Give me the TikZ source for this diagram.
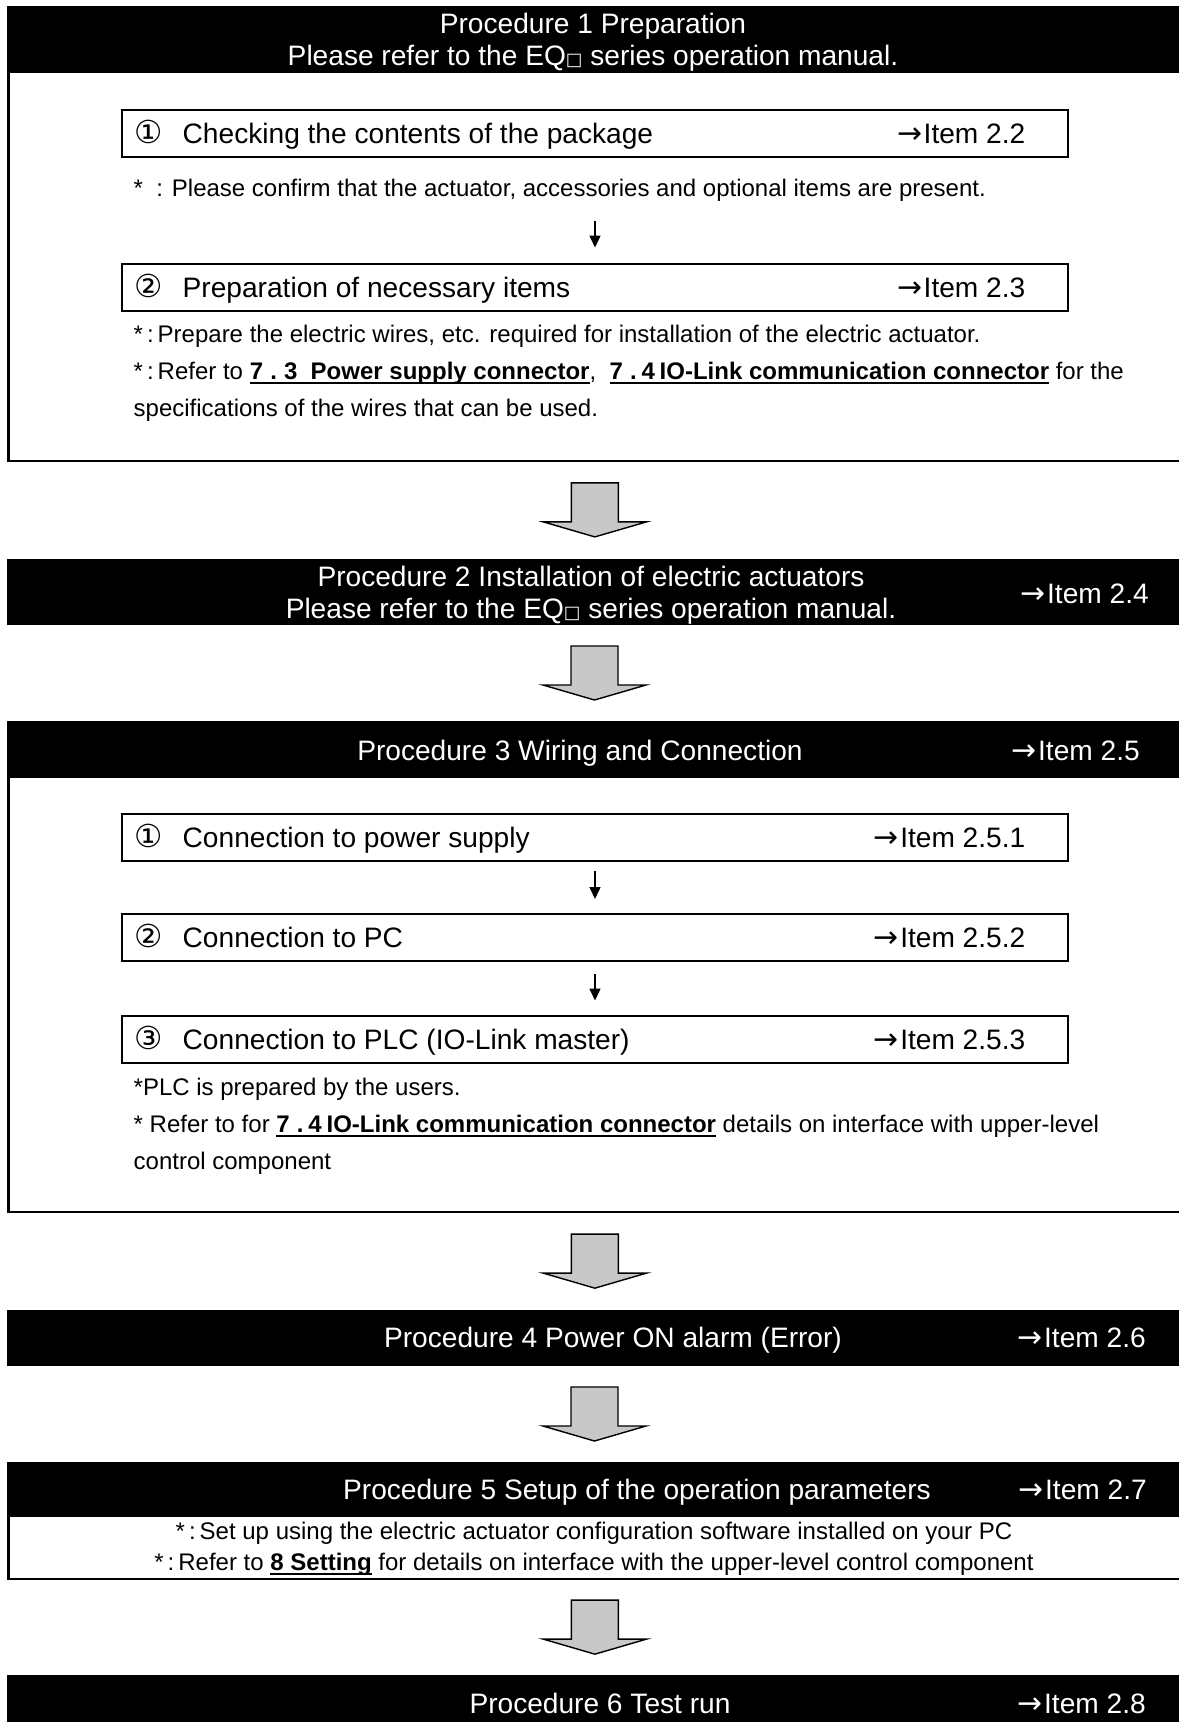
\documentclass[tikz,border=0pt]{standalone}
\usepackage{fontspec}
\setmainfont{Liberation Sans}
\newfontfamily\symfont{DejaVu Sans}
\usetikzlibrary{arrows.meta,calc,positioning}
\definecolor{ArrowGray}{HTML}{C8C8C8}

\newsavebox{\refbox}
\newcommand{\boxsq}{{\symfont\fontsize{5}{6}\selectfont □}}
\newcommand{\toitem}{{\symfont\fontsize{8.5}{9}\selectfont →}\kern0.4pt}
\newcommand{\circnum}[1]{\makebox[0.48cm][l]{\symfont\fontsize{9}{9}\selectfont #1}}
\newcommand{\refbold}[1]{\sbox{\refbox}{\bfseries #1}\rlap{\rule[-1.5pt]{\wd\refbox}{0.75pt}}\usebox{\refbox}}

\tikzset{
  band/.style={fill=black, draw=none, inner sep=0pt, minimum width=11.75cm},
  outerbox/.style={draw=black, line width=0.57pt, inner sep=0pt, minimum width=11.735cm},
  stepbox/.style={draw=black, line width=0.57pt, inner sep=0pt, minimum width=9.46cm, minimum height=0.47cm},
  headtext/.style={white, font=\fontsize{8}{9.2}\selectfont, align=center, inner sep=0pt, yshift=-0.25mm},
  titletext/.style={white, font=\fontsize{8}{9.2}\selectfont, inner sep=0pt, text height=6pt, text depth=1.7pt, yshift=-0.25mm},
  steptext/.style={font=\fontsize{8}{9.2}\selectfont, inner sep=0pt, text height=6pt, text depth=1.7pt, yshift=-0.25mm},
  notetext/.style={font=\fontsize{6.83}{8.8}\selectfont, inner sep=0pt, yshift=-0.2mm},
  smallarrow/.style={->, line width=0.45pt},
  grayarrow/.pic={
    \draw[fill=ArrowGray, line width=0.4pt] (-0.235,0.27) -- (0.235,0.27) -- (0.235,-0.12)
      -- (0.515,-0.12) -- (0,-0.27) -- (-0.515,-0.12) -- (-0.235,-0.12) -- cycle;
  }
}

\begin{document}
\begin{tikzpicture}[>={Triangle[length=1.2mm,width=1.1mm]}]
    \useasboundingbox (0,0) rectangle (11.79,-17.22);

    % Procedure 1
    \node[band, minimum height=0.66cm] (h1) at (5.945,-0.39) {};
    \node[headtext] (t1) at (5.93,-0.40) {Procedure 1 Preparation\\Please refer to the EQ\boxsq{} series operation manual.};
    \node[outerbox, minimum height=3.885cm] (box1) at (5.9525,-2.6625) {};

    \node[stepbox] (c1) at (5.95,-1.335) {};
    \node[steptext, right=0.13cm of c1.west] (c1l) {\circnum{①}Checking the contents of the package};
    \node[steptext, left=0.43cm of c1.east] (c1r) {\toitem Item 2.2};
    \node[notetext, anchor=west] (n1) at (1.33,-1.88) {*\ \ : Please confirm that the actuator, accessories and optional items are present.};

    \node[stepbox] (c2) at (5.95,-2.87) {};
    \node[steptext, right=0.13cm of c2.west] (c2l) {\circnum{②}Preparation of necessary items};
    \node[steptext, left=0.43cm of c2.east] (c2r) {\toitem Item 2.3};
    \draw[smallarrow, shorten <=0.63cm, shorten >=0.15cm] (c1.south) -- (c2.north);

    \node[notetext, anchor=west] (n2a) at (1.33,-3.34) {*\,:\,Prepare the electric wires, etc. required for installation of the electric actuator.};
    \node[notetext, anchor=west] (n2b) at (1.33,-3.71) {*\,:\,Refer to \refbold{7\hspace{0.3em}.\hspace{0.3em}3\hspace{0.55em}Power supply connector}, \ \refbold{7\hspace{0.3em}.\hspace{0.2em}4\hspace{0.2em}IO-Link communication connector} for the};
    \node[notetext, anchor=west] (n2c) at (1.33,-4.08) {specifications of the wires that can be used.};

    % Procedure 2
    \node[band, minimum height=0.66cm] (h2) at (5.945,-5.92) {};
    \node[headtext] (t2) at (5.91,-5.925) {Procedure 2 Installation of electric actuators\\Please refer to the EQ\boxsq{} series operation manual.};
    \node[titletext, anchor=west] (i2) at (10.20,-5.93) {\toitem Item 2.4};
    \pic at ($(box1.south)!0.5!(h2.north)$) {grayarrow};

    % Procedure 3
    \node[band, minimum height=0.56cm] (h3) at (5.945,-7.49) {};
    \node[titletext] (t3) at (5.80,-7.50) {Procedure 3 Wiring and Connection};
    \node[titletext, anchor=west] (i3) at (10.11,-7.50) {\toitem Item 2.5};
    \node[outerbox, minimum height=4.35cm] (box3) at (5.9525,-9.945) {};
    \pic at ($(h2.south)!0.5!(h3.north)$) {grayarrow};

    \node[stepbox] (c3a) at (5.95,-8.37) {};
    \node[steptext, right=0.13cm of c3a.west] (c3al) {\circnum{①}Connection to power supply};
    \node[steptext, left=0.43cm of c3a.east] (c3ar) {\toitem Item 2.5.1};

    \node[stepbox] (c3b) at (5.95,-9.375) {};
    \node[steptext, right=0.13cm of c3b.west] (c3bl) {\circnum{②}Connection to PC};
    \node[steptext, left=0.43cm of c3b.east] (c3br) {\toitem Item 2.5.2};

    \node[stepbox] (c3c) at (5.95,-10.39) {};
    \node[steptext, right=0.13cm of c3c.west] (c3cl) {\circnum{③}Connection to PLC (IO-Link master)};
    \node[steptext, left=0.43cm of c3c.east] (c3cr) {\toitem Item 2.5.3};

    \draw[smallarrow, shorten <=0.09cm, shorten >=0.14cm] (c3a.south) -- (c3b.north);
    \draw[smallarrow, shorten <=0.12cm, shorten >=0.14cm] (c3b.south) -- (c3c.north);

    \node[notetext, anchor=west] (n3a) at (1.33,-10.87) {*PLC is prepared by the users.};
    \node[notetext, anchor=west] (n3b) at (1.33,-11.24) {* Refer to for \refbold{7\hspace{0.3em}.\hspace{0.2em}4\hspace{0.2em}IO-Link communication connector} details on interface with upper-level};
    \node[notetext, anchor=west] (n3c) at (1.33,-11.61) {control component};

    % Procedure 4
    \node[band, minimum height=0.56cm] (h4) at (5.945,-13.38) {};
    \node[titletext] (t4) at (6.13,-13.37) {Procedure 4 Power ON alarm (Error)};
    \node[titletext, anchor=west] (i4) at (10.17,-13.37) {\toitem Item 2.6};
    \pic at ($(box3.south)!0.5!(h4.north)$) {grayarrow};

    % Procedure 5
    \node[band, minimum height=0.54cm] (h5) at (5.945,-14.89) {};
    \node[titletext] (t5) at (6.37,-14.89) {Procedure 5 Setup of the operation parameters};
    \node[titletext, anchor=west] (i5) at (10.18,-14.89) {\toitem Item 2.7};
    \node[outerbox, minimum height=0.63cm] (box5) at (5.9525,-15.475) {};
    \pic at ($(h4.south)!0.5!(h5.north)$) {grayarrow};

    \node[notetext] (n5a) at (5.94,-15.31) {*\,:\,Set up using the electric actuator configuration software installed on your PC};
    \node[notetext] (n5b) at (5.94,-15.62) {*\,:\,Refer to \refbold{8 Setting} for details on interface with the upper-level control component};

    % Procedure 6
    \node[band, minimum height=0.55cm] (h6) at (5.945,-17.025) {};
    \node[titletext] (t6) at (6.00,-17.03) {Procedure 6 Test run};
    \node[titletext, anchor=west] (i6) at (10.17,-17.03) {\toitem Item 2.8};
    \pic at ($(box5.south)!0.5!(h6.north)$) {grayarrow};

\end{tikzpicture}
\end{document}
